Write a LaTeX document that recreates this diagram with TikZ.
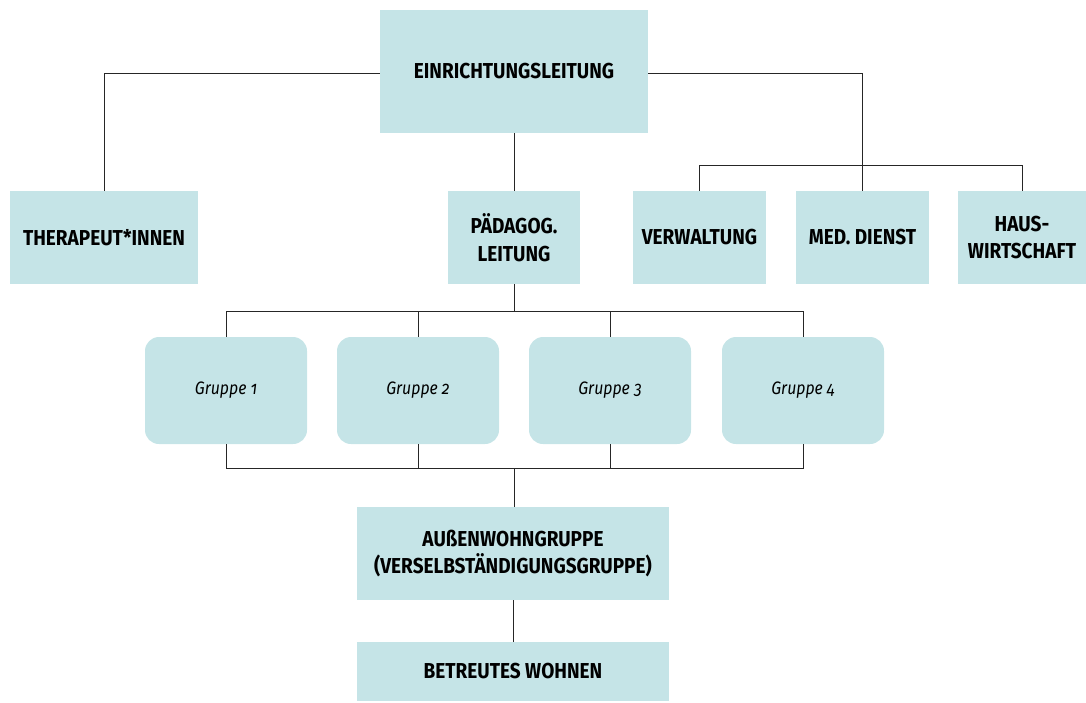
\documentclass[tikz,border=0pt]{standalone}
\usepackage{fontspec}
\setmainfont{Fira Sans}[FakeStretch=0.88]
\newfontfamily\grpfont{Fira Sans}[FakeStretch=0.88,Numbers=OldStyle]
\definecolor{boxc}{HTML}{C5E4E7}
\tikzset{
  box/.style={fill=boxc, draw=none, inner sep=0pt, align=center,
    font=\fontsize{21.6}{27.5}\selectfont\bfseries},
  grp/.style={box, rounded corners=14pt, minimum width=162pt, minimum height=107pt,
    font=\fontsize{18}{22}\grpfont\itshape},
  conn/.style={draw=black!85, line width=0.85pt}
}
\begin{document}
\begin{tikzpicture}[x=1pt,y=-1pt]
\useasboundingbox (0,0) rectangle (1086,702);
\node[box, minimum width=268pt, minimum height=123pt] (einr) at (514,71.5) {EINRICHTUNGSLEITUNG};
\node[box, minimum width=188pt, minimum height=93pt] (ther) at (104,237.5) {THERAPEUT*INNEN};
\node[box, minimum width=132pt, minimum height=93pt] (paed) at (514,237.5) {PÄDAGOG.\\LEITUNG};
\node[box, minimum width=133pt, minimum height=93pt] (verw) at (699.5,237.5) {VERWALTUNG};
\node[box, minimum width=133pt, minimum height=93pt] (med) at (862.5,237.5) {MED. DIENST};
\node[box, minimum width=128pt, minimum height=93pt] (haus) at (1022,237.5) {HAUS-\\WIRTSCHAFT};
\node[grp] (g1) at (226,390.5) {Gruppe 1};
\node[grp] (g2) at (418,390.5) {Gruppe 2};
\node[grp] (g3) at (610,390.5) {Gruppe 3};
\node[grp] (g4) at (803,390.5) {Gruppe 4};
\node[box, minimum width=312pt, minimum height=93pt] (ausw) at (513,553.5) {AUßENWOHNGRUPPE\\(VERSELBSTÄNDIGUNGSGRUPPE)};
\node[box, minimum width=312pt, minimum height=59pt] (betr) at (513,671.5) {BETREUTES WOHNEN};
\coordinate (tl) at (104,73);
\coordinate (tr) at (862.5,73);
\coordinate (hl) at (699.5,165);
\coordinate (hr) at (1022,165);
\coordinate (ptop) at (514,311);
\coordinate (pbot) at (514,468);
\draw[conn] (einr.west |- tl) -- (tl) -- (ther.north);
\draw[conn] (einr.east |- tr) -- (tr) -- (med.north);
\draw[conn] (verw.north) -- (hl) -- (hr) -- (haus.north);
\draw[conn] (einr.south) -- (paed.north);
\draw[conn] (paed.south) -- (ptop);
\draw[conn] (g1.north) -- (g1.north |- ptop) -- (g4.north |- ptop) -- (g4.north);
\draw[conn] (g2.north) -- (g2.north |- ptop);
\draw[conn] (g3.north) -- (g3.north |- ptop);
\draw[conn] (g1.south) -- (g1.south |- pbot) -- (g4.south |- pbot) -- (g4.south);
\draw[conn] (g2.south) -- (g2.south |- pbot);
\draw[conn] (g3.south) -- (g3.south |- pbot);
\draw[conn] (pbot) -- (ausw.north -| pbot);
\draw[conn] (ausw.south) -- (betr.north);
\end{tikzpicture}
\end{document}
